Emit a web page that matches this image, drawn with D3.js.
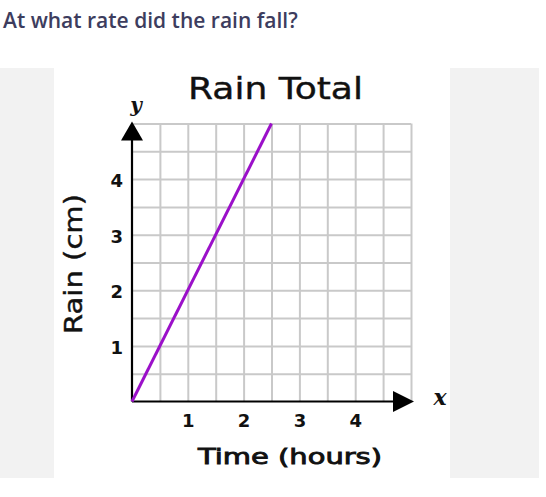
<!DOCTYPE html>
<html>
<head>
<meta charset="utf-8">
<script src="https://cdn.jsdelivr.net/npm/d3@7"></script>
<style>
  html, body { margin: 0; padding: 0; background: #ffffff; }
  svg { display: block; }
</style>
</head>
<body>
<svg id="chart" width="546" height="497"></svg>
<script>
// ---- data ----
const question = "At what rate did the rain fall?";
const chartTitle = "Rain Total";
const xLabel = "Time (hours)";
const yLabel = "Rain (cm)";
const xTicks = [1, 2, 3, 4];
const yTicks = [1, 2, 3, 4];
const gridStep = 0.5;
const hours = [0, 2.5];
const rainCm = [0, 5];
const xDomain = [0, 5];
const yDomain = [0, 5];

// ---- layout ----
const svg = d3.select("#chart");
const W = 546, H = 497;

svg.append("rect").attr("x", 0).attr("y", 0).attr("width", W).attr("height", H).attr("fill", "#ffffff");
svg.append("rect").attr("x", 0).attr("y", 68).attr("width", 539).attr("height", 410).attr("fill", "#f2f2f2");
svg.append("rect").attr("x", 54).attr("y", 68).attr("width", 396).attr("height", 410).attr("fill", "#ffffff");

svg.append("text")
  .attr("x", 3).attr("y", 28)
  .attr("font-family", "'Open Sans', sans-serif")
  .attr("font-size", 21).attr("font-weight", 600)
  .attr("fill", "#3d3d5e")
  .text(question);

const x = d3.scaleLinear().domain(xDomain).range([132, 411]);
const y = d3.scaleLinear().domain(yDomain).range([401.5, 123.5]);

const gridVals = d3.range(gridStep, xDomain[1] + 1e-9, gridStep);

// grid
const g = svg.append("g");
g.append("g").attr("transform", `translate(0,${y(0)})`)
  .call(d3.axisBottom(x).tickValues(gridVals).tickSize(-(y(0) - y(yDomain[1]))).tickFormat(""))
  .call(s => s.select(".domain").remove())
  .call(s => s.selectAll("line").attr("stroke", "#c9c9c9").attr("stroke-width", 2));
g.append("g").attr("transform", `translate(${x(0)},0)`)
  .call(d3.axisLeft(y).tickValues(gridVals).tickSize(-(x(xDomain[1]) - x(0))).tickFormat(""))
  .call(s => s.select(".domain").remove())
  .call(s => s.selectAll("line").attr("stroke", "#c9c9c9").attr("stroke-width", 2));

// axes lines with arrows
svg.append("line").attr("x1", x(0)).attr("y1", y(0)).attr("x2", 396).attr("y2", y(0))
  .attr("stroke", "#000").attr("stroke-width", 2.2);
svg.append("path").attr("d", `M393,391 L414,${y(0)} L393,412 Z`).attr("fill", "#000");
svg.append("line").attr("x1", x(0)).attr("y1", y(0)).attr("x2", x(0)).attr("y2", 138)
  .attr("stroke", "#000").attr("stroke-width", 2.2);
svg.append("path").attr("d", `M121,140.5 L${x(0)},121.5 L143,140.5 Z`).attr("fill", "#000");

// tick labels
svg.append("g").attr("transform", `translate(0,${y(0) + 10})`)
  .call(d3.axisBottom(x).tickValues(xTicks).tickSize(0).tickPadding(0).tickFormat(d3.format("d")))
  .call(s => s.select(".domain").remove())
  .call(s => s.selectAll("text")
    .attr("font-family", "'DejaVu Sans', Verdana, sans-serif")
    .attr("font-size", 18).attr("font-weight", "bold").attr("fill", "#111")
    .attr("dy", "0.85em"));
svg.append("g").attr("transform", `translate(${x(0) - 9},0)`)
  .call(d3.axisLeft(y).tickValues(yTicks).tickSize(0).tickPadding(0).tickFormat(d3.format("d")))
  .call(s => s.select(".domain").remove())
  .call(s => s.selectAll("text")
    .attr("font-family", "'DejaVu Sans', Verdana, sans-serif")
    .attr("font-size", 18).attr("font-weight", "bold").attr("fill", "#111")
    .attr("dy", "0.42em"));

// data line
const pts = hours.map((h, i) => [h, rainCm[i]]);
svg.append("path").datum(pts)
  .attr("d", d3.line().x(d => x(d[0])).y(d => y(d[1])))
  .attr("fill", "none").attr("stroke", "#9b10c9").attr("stroke-width", 3);

// title and labels
svg.append("text").attr("x", 275.5).attr("y", 98.5)
  .attr("text-anchor", "middle")
  .attr("font-family", "'DejaVu Sans', Verdana, sans-serif")
  .attr("font-size", 31).attr("fill", "#111")
  .attr("stroke", "#111").attr("stroke-width", 0.4)
  .attr("textLength", 175).attr("lengthAdjust", "spacingAndGlyphs")
  .text(chartTitle);

svg.append("text").attr("x", 290).attr("y", 463.5)
  .attr("text-anchor", "middle")
  .attr("font-family", "'DejaVu Sans', Verdana, sans-serif")
  .attr("font-size", 22).attr("fill", "#111")
  .attr("stroke", "#111").attr("stroke-width", 0.9)
  .attr("textLength", 184).attr("lengthAdjust", "spacingAndGlyphs")
  .text(xLabel);

svg.append("text")
  .attr("transform", "translate(82,264) rotate(-90)")
  .attr("text-anchor", "middle")
  .attr("font-family", "'DejaVu Sans', Verdana, sans-serif")
  .attr("font-size", 24).attr("fill", "#111")
  .attr("stroke", "#111").attr("stroke-width", 0.4)
  .attr("textLength", 140).attr("lengthAdjust", "spacingAndGlyphs")
  .text(yLabel);

svg.append("text").attr("x", 136).attr("y", 112)
  .attr("text-anchor", "middle")
  .attr("font-family", "'DejaVu Serif', 'Liberation Serif', serif")
  .attr("font-style", "italic").attr("font-weight", "bold")
  .attr("font-size", 20).attr("fill", "#111").text("y");
svg.append("text").attr("x", 440).attr("y", 405)
  .attr("text-anchor", "middle")
  .attr("font-family", "'DejaVu Serif', 'Liberation Serif', serif")
  .attr("font-style", "italic").attr("font-weight", "bold")
  .attr("font-size", 22).attr("fill", "#111").text("x");
</script>
</body>
</html>
